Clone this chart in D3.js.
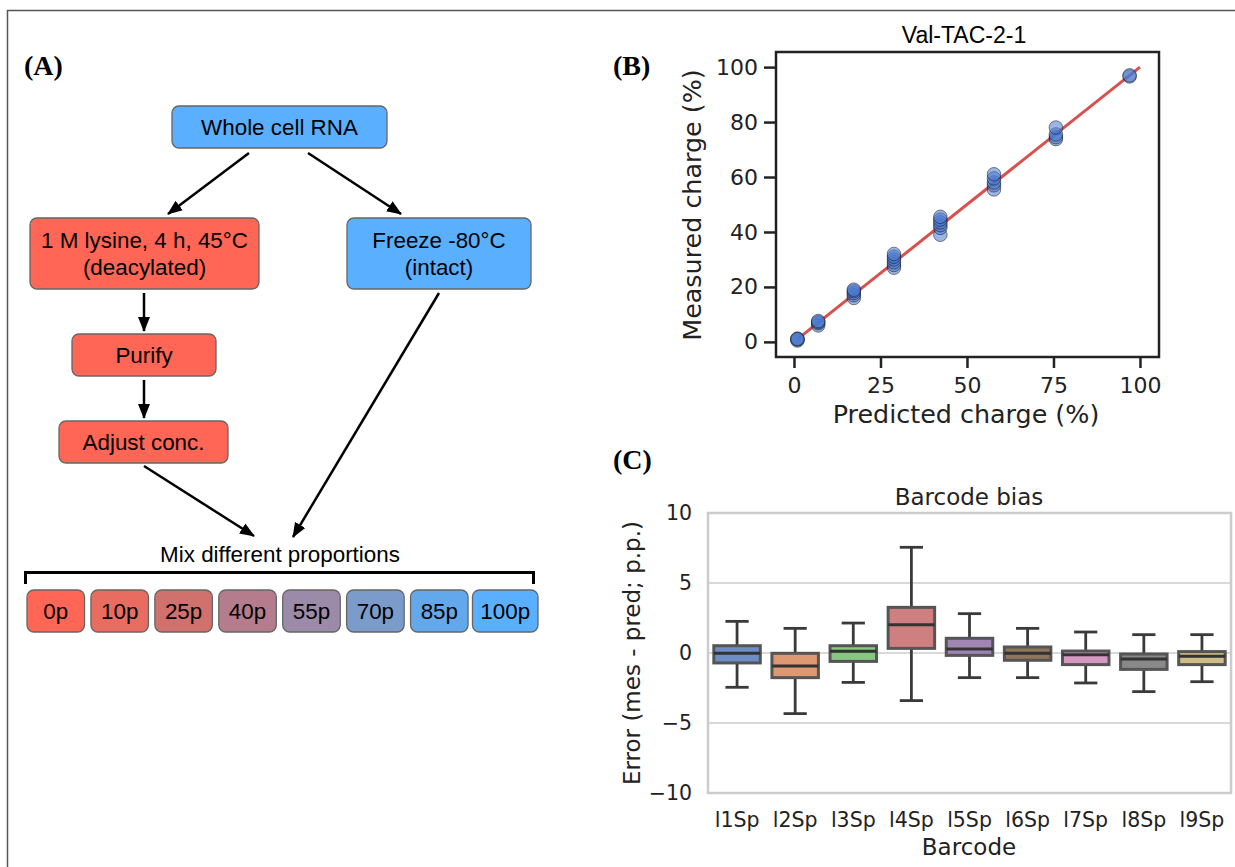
<!DOCTYPE html>
<meta charset="utf-8">
<head>
  <title>tRNA charge titration</title>
</head>
<script src="https://d3js.org/d3.v7.min.js"></script>
<body style="margin:0; background:#fff">
<div id="fig"></div>
<script>
  // ---- panel B: predicted vs measured charge ----
  var predicted = [1.0, 7.0, 17.3, 28.9, 42.3, 57.8, 75.7, 97.0];
  var measured = [
    [0.5, 0.9, 1.2, 1.0],
    [6.0, 6.8, 7.2, 7.6],
    [16.0, 17.0, 17.8, 18.5, 19.0],
    [27.0, 28.0, 29.0, 30.0, 31.0, 32.0],
    [39.0, 41.5, 42.5, 43.5, 44.5, 45.5],
    [55.5, 57.0, 58.0, 59.5, 61.0],
    [73.8, 74.5, 75.5, 78.0],
    [96.6, 97.0]
  ];
  var chargeTicksY = [0, 20, 40, 60, 80, 100];
  var chargeTicksX = [0, 25, 50, 75, 100];

  // ---- panel C: barcode bias boxplots ----
  var barcodes = ["l1Sp", "l2Sp", "l3Sp", "l4Sp", "l5Sp", "l6Sp", "l7Sp", "l8Sp", "l9Sp"];
  var whiskLo = [-2.45, -4.33, -2.10, -3.40, -1.76, -1.76, -2.14, -2.76, -2.05];
  var q1 = [-0.71, -1.76, -0.60, 0.33, -0.17, -0.52, -0.83, -1.17, -0.83];
  var med = [-0.02, -0.93, 0.12, 2.02, 0.29, -0.02, -0.12, -0.43, -0.24];
  var q3 = [0.52, -0.02, 0.52, 3.26, 1.05, 0.43, 0.14, -0.07, 0.10];
  var whiskHi = [2.26, 1.76, 2.14, 7.55, 2.81, 1.76, 1.50, 1.31, 1.31];
  var boxColors = ["#597dbf", "#da8b5f", "#76bf71", "#c76e6e", "#9475ab", "#826246", "#d08abb", "#797979", "#c7b475"];
  var errorTicks = [-10, -5, 0, 5, 10];

  // ---- panel A: mixing proportions ----
  var mixLabels = ["0p", "10p", "25p", "40p", "55p", "70p", "85p", "100p"];
  var mixColors = ["#ff6655", "#e86c60", "#d0716d", "#b47c8c", "#9b8ba9", "#7b9bcb", "#63a8ea", "#5ab0ff"];

  var W = 1235, H = 867;
  var RED = "#ff6655", BLUE = "#5ab0ff";
  var SANS = "'Liberation Sans', Arial, sans-serif";
  var DEJAVU = "'DejaVu Sans', sans-serif";

  var svg = d3.select("#fig").append("svg")
    .attr("width", W).attr("height", H)
    .style("display", "block");
  svg.append("rect").attr("width", W).attr("height", H).attr("fill", "#fff");

  // outer frame (top and left edges only are visible)
  svg.append("path").attr("d", "M7.5," + H + "V10.5H" + W)
    .attr("fill", "none").attr("stroke", "#555").attr("stroke-width", 1.5);

  // panel letters
  [["(A)", 24, 75], ["(B)", 613, 75], ["(C)", 613, 469]].forEach(function (p) {
    svg.append("text").attr("x", p[1]).attr("y", p[2]).text(p[0])
      .style("font-family", "'Liberation Serif', serif").style("font-weight", "bold")
      .style("font-size", "28px");
  });

  // ================= panel A =================
  var gA = svg.append("g");
  svg.append("defs").append("marker")
    .attr("id", "head").attr("markerUnits", "userSpaceOnUse")
    .attr("markerWidth", 15).attr("markerHeight", 12)
    .attr("refX", 14).attr("refY", 6).attr("orient", "auto")
    .append("path").attr("d", "M0,0L15,6L0,12Z").attr("fill", "#000");

  var nodes = [
    { x: 172, y: 106, w: 215, h: 42, fill: BLUE, lines: ["Whole cell RNA"] },
    { x: 30, y: 218, w: 229, h: 71, fill: RED, lines: ["1 M lysine, 4 h, 45°C", "(deacylated)"] },
    { x: 347, y: 218, w: 184, h: 71, fill: BLUE, lines: ["Freeze -80°C", "(intact)"] },
    { x: 72, y: 334, w: 144, h: 42, fill: RED, lines: ["Purify"] },
    { x: 59, y: 421, w: 169, h: 42, fill: RED, lines: ["Adjust conc."] }
  ];
  nodes.forEach(function (n) {
    gA.append("rect").attr("x", n.x).attr("y", n.y).attr("width", n.w).attr("height", n.h)
      .attr("rx", 7).attr("fill", n.fill).attr("stroke", "#666").attr("stroke-width", 1.3);
    var y0 = n.y + n.h / 2 - (n.lines.length - 1) * 13.5;
    n.lines.forEach(function (t, i) {
      gA.append("text").attr("x", n.x + n.w / 2).attr("y", y0 + i * 27).attr("dy", "0.36em")
        .attr("text-anchor", "middle").text(t)
        .style("font-family", SANS).style("font-size", "22.4px");
    });
  });

  var arrows = [
    [249, 153, 168, 214],
    [308, 153, 401, 214],
    [144, 293, 144, 331],
    [144, 380, 144, 418],
    [144, 466, 254, 536],
    [439, 293, 293, 537]
  ];
  arrows.forEach(function (a) {
    gA.append("line").attr("x1", a[0]).attr("y1", a[1]).attr("x2", a[2]).attr("y2", a[3])
      .attr("stroke", "#000").attr("stroke-width", 2.5).attr("marker-end", "url(#head)");
  });

  gA.append("text").attr("x", 280).attr("y", 562).attr("text-anchor", "middle")
    .text("Mix different proportions")
    .style("font-family", SANS).style("font-size", "22.4px");
  gA.append("path").attr("d", "M25.5,584V572.5H533.5V584")
    .attr("fill", "none").attr("stroke", "#000").attr("stroke-width", 3);

  var mixX = d3.scaleBand().domain(mixLabels).range([27, 532]).paddingInner(0.1);
  mixLabels.forEach(function (m, i) {
    var x0 = mixX(m), w = mixX.bandwidth();
    if (i === mixLabels.length - 1) { x0 -= 2; w += 8; }
    gA.append("rect").attr("x", x0).attr("y", 590).attr("width", w).attr("height", 42)
      .attr("rx", 7).attr("fill", mixColors[i]).attr("stroke", "#666").attr("stroke-width", 1.3);
    gA.append("text").attr("x", x0 + w / 2).attr("y", 611).attr("dy", "0.36em")
      .attr("text-anchor", "middle").text(m)
      .style("font-family", SANS).style("font-size", "22.4px");
  });

  // ================= panel B =================
  var xB = d3.scaleLinear().domain([-5.2, 105.5]).range([776, 1159]);
  var yB = d3.scaleLinear().domain([-5.5, 105.5]).range([357, 52]);
  var gB = svg.append("g");

  var axB = gB.append("g").attr("transform", "translate(776,0)")
    .call(d3.axisLeft(yB).tickValues(chargeTicksY).tickSize(12).tickPadding(6));
  var axBx = gB.append("g").attr("transform", "translate(0,357)")
    .call(d3.axisBottom(xB).tickValues(chargeTicksX).tickSize(11).tickPadding(9));
  [axB, axBx].forEach(function (a) {
    a.select(".domain").remove();
    a.selectAll("line").attr("stroke", "#222").attr("stroke-width", 2.5);
    a.selectAll("text").style("font-family", DEJAVU).style("font-size", "22px").attr("fill", "#222");
  });

  gB.append("line")
    .attr("x1", xB(1)).attr("y1", yB(1)).attr("x2", xB(100)).attr("y2", yB(100))
    .attr("stroke", "#d9514e").attr("stroke-width", 3);

  var pts = [];
  predicted.forEach(function (p, i) {
    measured[i].forEach(function (m) { pts.push({ p: p, m: m }); });
  });
  gB.append("g").selectAll("circle").data(pts).enter().append("circle")
    .attr("cx", function (d) { return xB(d.p); })
    .attr("cy", function (d) { return yB(d.m); })
    .attr("r", 6.8)
    .attr("fill", "#4878d0").attr("fill-opacity", 0.55)
    .attr("stroke", "#111").attr("stroke-opacity", 0.5).attr("stroke-width", 1);

  gB.append("rect").attr("x", 776).attr("y", 52).attr("width", 383).attr("height", 305)
    .attr("fill", "none").attr("stroke", "#222").attr("stroke-width", 2.5);

  gB.append("text").attr("x", 964).attr("y", 43).attr("text-anchor", "middle")
    .text("Val-TAC-2-1").style("font-family", SANS).style("font-size", "23px");
  gB.append("text").attr("x", 966).attr("y", 423).attr("text-anchor", "middle")
    .text("Predicted charge (%)").style("font-family", DEJAVU).style("font-size", "25.4px").attr("fill", "#222");
  gB.append("text").attr("transform", "translate(701,205) rotate(-90)").attr("text-anchor", "middle")
    .text("Measured charge (%)").style("font-family", DEJAVU).style("font-size", "25.4px").attr("fill", "#222");

  // ================= panel C =================
  var xC = d3.scaleBand().domain(barcodes).range([708, 1231]).paddingInner(0.2).paddingOuter(0.1);
  var yC = d3.scaleLinear().domain([-10, 10]).range([793, 513]);
  var gC = svg.append("g");

  gC.append("g").selectAll("line").data(errorTicks).enter().append("line")
    .attr("x1", 708).attr("x2", 1231)
    .attr("y1", function (d) { return yC(d); }).attr("y2", function (d) { return yC(d); })
    .attr("stroke", "#cccccc").attr("stroke-width", 1.5);

  var axC = gC.append("g").attr("transform", "translate(708,0)")
    .call(d3.axisLeft(yC).tickValues(errorTicks).tickSize(0).tickPadding(16));
  var axCx = gC.append("g").attr("transform", "translate(0,793)")
    .call(d3.axisBottom(xC).tickSize(0).tickPadding(19));
  [axC, axCx].forEach(function (a) {
    a.select(".domain").remove();
    a.selectAll("text").style("font-family", DEJAVU).style("font-size", "20.5px").attr("fill", "#222");
  });

  var bw = xC.bandwidth();
  barcodes.forEach(function (b, i) {
    var cx = xC(b) + bw / 2;
    var g = gC.append("g");
    g.append("line").attr("x1", cx).attr("x2", cx).attr("y1", yC(q3[i])).attr("y2", yC(whiskHi[i]));
    g.append("line").attr("x1", cx).attr("x2", cx).attr("y1", yC(q1[i])).attr("y2", yC(whiskLo[i]));
    g.append("line").attr("x1", cx - bw / 4).attr("x2", cx + bw / 4).attr("y1", yC(whiskHi[i])).attr("y2", yC(whiskHi[i]));
    g.append("line").attr("x1", cx - bw / 4).attr("x2", cx + bw / 4).attr("y1", yC(whiskLo[i])).attr("y2", yC(whiskLo[i]));
    g.selectAll("line").attr("stroke", "#3a3a3a").attr("stroke-width", 2.8);
    g.append("rect").attr("x", xC(b)).attr("width", bw)
      .attr("y", yC(q3[i])).attr("height", yC(q1[i]) - yC(q3[i]))
      .attr("fill", boxColors[i]).attr("fill-opacity", 0.88)
      .attr("stroke", "#555").attr("stroke-width", 3);
    g.append("line").attr("x1", xC(b)).attr("x2", xC(b) + bw).attr("y1", yC(med[i])).attr("y2", yC(med[i]))
      .attr("stroke", "#333").attr("stroke-width", 3);
  });

  gC.append("rect").attr("x", 708).attr("y", 513).attr("width", 523).attr("height", 280)
    .attr("fill", "none").attr("stroke", "#cccccc").attr("stroke-width", 2.5);

  gC.append("text").attr("x", 969).attr("y", 505).attr("text-anchor", "middle")
    .text("Barcode bias").style("font-family", DEJAVU).style("font-size", "23px").attr("fill", "#222");
  gC.append("text").attr("x", 969).attr("y", 855).attr("text-anchor", "middle")
    .text("Barcode").style("font-family", DEJAVU).style("font-size", "23px").attr("fill", "#222");
  gC.append("text").attr("transform", "translate(640,653) rotate(-90)").attr("text-anchor", "middle")
    .text("Error (mes - pred; p.p.)").style("font-family", DEJAVU).style("font-size", "23px").attr("fill", "#222");
</script>
</body>
